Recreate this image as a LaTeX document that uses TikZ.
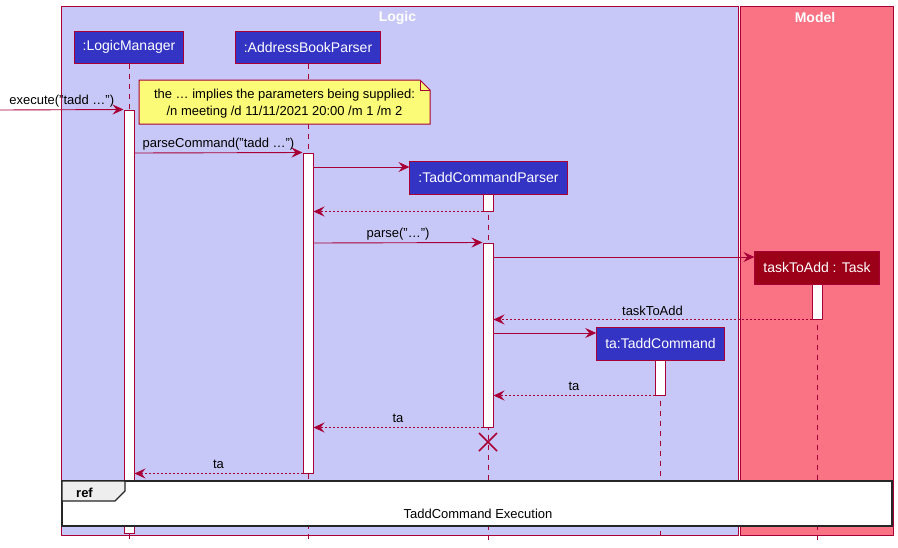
\documentclass[tikz,border=0pt]{standalone}
\usepackage{fontspec}
\setmainfont{Liberation Sans}
\usetikzlibrary{arrows.meta}
\definecolor{bord}{HTML}{A80036}
\definecolor{logicbg}{HTML}{C8C8F8}
\definecolor{modelbg}{HTML}{FA7385}
\definecolor{partblue}{HTML}{3333C4}
\definecolor{partred}{HTML}{9B0018}
\definecolor{noteyellow}{HTML}{FBFB77}
\definecolor{tabgray}{HTML}{EEEEEE}
\tikzset{
  grp/.style={draw=bord, line width=1pt, inner sep=0pt, anchor=north west},
  grptitle/.style={text=white, font=\fontsize{14}{16}\selectfont\bfseries},
  part/.style={draw=bord, line width=1pt, fill=partblue, text=white, minimum height=32pt, inner xsep=8.5pt, font=\fontsize{14}{16}\selectfont},
  life/.style={draw=bord, line width=0.9pt, dash pattern=on 5pt off 5pt},
  act/.style={draw=bord, fill=white, line width=1pt, minimum width=10pt, inner sep=0pt},
  msg/.style={draw=bord, line width=0.9pt, -{Stealth[length=11pt, width=10pt, inset=4pt]}},
  ret/.style={msg, dash pattern=on 2pt off 2pt},
  lbl/.style={midway, anchor=base, yshift=5pt, text=black, font=\fontsize{13}{15}\selectfont},
}
\begin{document}
\begin{tikzpicture}[x=1pt, y=-1pt, font=\fontsize{13}{15}\selectfont]
\useasboundingbox (0,0) rectangle (898,547);
\fill[white] (0,0) rectangle (898,547);

% group boxes
\node[grp, fill=logicbg, minimum width=677pt, minimum height=529pt] (logic) at (61,6) {};
\node[grp, fill=modelbg, minimum width=153pt, minimum height=529pt] (model) at (740,6) {};
\node[grptitle] (logicT) at (397.5,17.5) {Logic};
\node[grptitle] (modelT) at (815,17.5) {Model};

% participants
\node[part] (lm) at (129,47) {:LogicManager};
\node[part] (abp) at (308,47) {:AddressBookParser};
\node[part, minimum height=33pt] (tcp) at (488.5,177.5) {:TaddCommandParser};
\node[part, minimum height=33pt, fill=partred] (task) at (817,267.5) {taskToAdd : Task};
\node[part, minimum height=33pt] (tc) at (660.5,343.5) {ta:TaddCommand};

% lifeline ends
\coordinate (lmEnd) at (129,540);
\coordinate (abpEnd) at (308,540);
\coordinate (tcpEnd) at (488,540);
\coordinate (taskEnd) at (817,540);
\coordinate (tcEnd) at (660,540);
\draw[life] (lm.south) -- (lmEnd);
\draw[life] (abp.south) -- (abpEnd);
\draw[life] (tcp.south -| tcpEnd) -- (tcpEnd);
\draw[life] (task.south) -- (taskEnd);
\draw[life] (tc.south -| tcEnd) -- (tcEnd);

% activations
\node[act, minimum height=423pt] (aLM) at (129,321.5) {};
\node[act, minimum height=320pt] (aABP) at (308,313) {};
\node[act, minimum height=17pt] (aTCP1) at (488,202.5) {};
\node[act, minimum height=184pt] (aTCP2) at (488,335) {};
\node[act, minimum height=35pt] (aTask) at (817,301.5) {};
\node[act, minimum height=35pt] (aTC) at (660,377.5) {};

% messages
\coordinate (ext) at (0,110);
\draw[msg] (ext) -- node[lbl] {execute("tadd …")} (aLM.north west);
\draw[msg] (aLM.east |- 0,153) -- node[lbl] {parseCommand("tadd …")} (aABP.north west);
\draw[msg] (aABP.east |- 0,167) -- (tcp.west |- 0,167);
\draw[ret] (aTCP1.south west) -- (aABP.east |- aTCP1.south);
\draw[msg] (aABP.east |- 0,243) -- node[lbl] {parse("…")} (aTCP2.north west);
\draw[msg] (aTCP2.east |- 0,257) -- (task.west |- 0,257);
\draw[ret] (aTask.south west) -- node[lbl, yshift=-0.5pt] {taskToAdd} (aTCP2.east |- aTask.south);
\draw[msg] (aTCP2.east |- 0,333) -- (tc.west |- 0,333);
\draw[ret] (aTC.south west) -- node[lbl] {ta} (aTCP2.east |- aTC.south);
\draw[ret] (aTCP2.south west) -- node[lbl] {ta} (aABP.east |- aTCP2.south);
\draw[ret] (aABP.south west) -- node[lbl] {ta} (aLM.east |- aABP.south);

% destroy
\coordinate (xc) at (488,442);
\draw[bord, line width=1.6pt] ([shift={(-9,-9)}]xc) -- ([shift={(9,9)}]xc) ([shift={(-9,9)}]xc) -- ([shift={(9,-9)}]xc);

% note
\draw[draw=bord, fill=noteyellow, line width=1pt] (139,80) -- (420,80) -- (430,90) -- (430,124) -- (139,124) -- cycle;
\draw[draw=bord, line width=1pt] (420,80) -- (420,90) -- (430,90);
\node[align=center, inner sep=0pt, font=\fontsize{13}{17}\selectfont] (note) at (284.5,104) {the … implies the parameters being supplied:\\/n meeting /d 11/11/2021 20:00 /m 1 /m 2};

% ref
\draw[draw=black!85, fill=white, line width=1.6pt] (62,481) rectangle (892,526);
\draw[draw=black!85, fill=tabgray, line width=1.3pt] (62,481) -- (125,481) -- (125,491) -- (115,501) -- (62,501) -- cycle;
\node[anchor=base west, inner sep=0pt, font=\fontsize{13}{15}\selectfont\bfseries] (refT) at (76,497) {ref};
\node[anchor=base, inner sep=0pt] (refB) at (478,518) {TaddCommand Execution};
\end{tikzpicture}
\end{document}
